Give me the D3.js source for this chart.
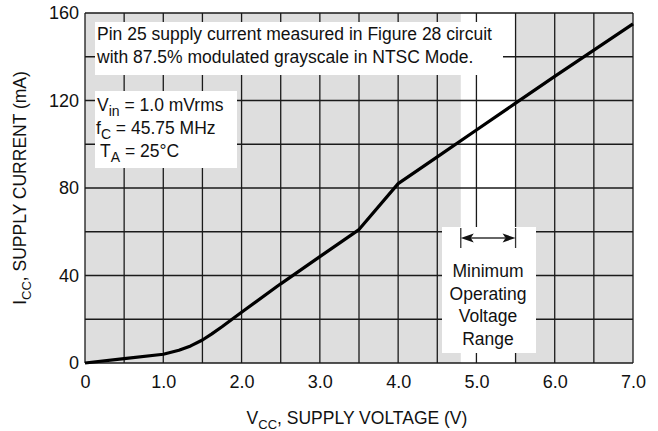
<!DOCTYPE html>
<html>
<head>
<meta charset="utf-8">
<script src="https://cdn.jsdelivr.net/npm/d3@7"></script>
<style>
body { margin: 0; background: #fff; }
text { font-family: "Liberation Sans", Arial, sans-serif; fill: #111; }
</style>
</head>
<body>
<script>
// donnees
var voltage = [0, 0.5, 1.0, 1.2, 1.35, 1.5, 1.62, 1.75, 1.87, 2.0, 2.5, 3.0, 3.5, 4.0, 4.5, 5.0, 5.5, 6.0, 6.5, 7.0];
var current = [0, 2, 4, 5.8, 7.8, 10.5, 13.3, 16.6, 19.8, 23.2, 36.2, 48.6, 61, 82, 94.2, 106.5, 118.8, 131, 143, 155];
var xTicks = [0, 1, 2, 3, 4, 5, 6, 7];
var yTicks = [0, 40, 80, 120, 160];
var xGrid = [0, 0.5, 1, 1.5, 2, 2.5, 3, 3.5, 4, 4.5, 5, 5.5, 6, 6.5, 7];
var yGrid = [0, 20, 40, 60, 80, 100, 120, 140, 160];
var rangeV = [4.8, 5.5];

var W = 658, H = 431;
var margin = { left: 85, right: 25, top: 13, bottom: 68 };
var w = W - margin.left - margin.right,
    h = H - margin.top - margin.bottom;

var svg = d3.select("body").append("svg")
    .attr("width", W)
    .attr("height", H);

var g = svg.append("g").attr("transform", "translate(" + margin.left + "," + margin.top + ")");

var x = d3.scaleLinear().domain([0, 7]).range([0, w]);
var y = d3.scaleLinear().domain([0, 160]).range([h, 0]);

// fond gris
g.append("rect").attr("width", w).attr("height", h).attr("fill", "#dedede");

// bande blanche (plage de tension)
g.append("rect")
    .attr("x", x(rangeV[0])).attr("y", 0)
    .attr("width", x(rangeV[1]) - x(rangeV[0])).attr("height", h)
    .attr("fill", "#fff");

// grille
g.selectAll(".vgrid").data(xGrid).enter().append("line")
    .attr("x1", d => x(d)).attr("x2", d => x(d))
    .attr("y1", 0).attr("y2", h)
    .attr("stroke", "#1a1a1a").attr("stroke-width", 1.3);

g.selectAll(".hgrid").data(yGrid).enter().append("line")
    .attr("x1", 0).attr("x2", w)
    .attr("y1", d => y(d)).attr("y2", d => y(d))
    .attr("stroke", "#1a1a1a").attr("stroke-width", 1.3);

// cadres blancs des annotations
svg.append("rect").attr("x", 95).attr("y", 22).attr("width", 408).attr("height", 53).attr("fill", "#fff");
svg.append("rect").attr("x", 95).attr("y", 91).attr("width", 142).attr("height", 77).attr("fill", "#fff");
svg.append("rect").attr("x", 442).attr("y", 227).attr("width", 94).attr("height", 126).attr("fill", "#fff");

// courbe
var line = d3.line()
    .x((d, i) => x(voltage[i]))
    .y((d, i) => y(current[i]));

g.append("path")
    .datum(current)
    .attr("d", line)
    .attr("fill", "none")
    .attr("stroke", "#000")
    .attr("stroke-width", 3.2)
    .attr("stroke-linejoin", "round");

// axes
var xAxis = g.append("g")
    .attr("transform", "translate(0," + h + ")")
    .call(d3.axisBottom(x).tickValues(xTicks).tickSize(0).tickPadding(12)
        .tickFormat(d => d === 0 ? "0" : d.toFixed(1)));
xAxis.select(".domain").remove();
xAxis.selectAll("text").style("font-size", "18px").attr("fill", "#111");

var yAxis = g.append("g")
    .call(d3.axisLeft(y).tickValues(yTicks).tickSize(0).tickPadding(6));
yAxis.select(".domain").remove();
yAxis.selectAll("text").style("font-size", "18px").attr("fill", "#111");

// titres des axes
var xt = svg.append("text")
    .attr("x", margin.left + w / 2 - 2).attr("y", 424)
    .attr("text-anchor", "middle")
    .style("font-size", "17.5px");
xt.append("tspan").text("V");
xt.append("tspan").attr("dy", 5).style("font-size", "13px").text("CC");
xt.append("tspan").attr("dy", -5).text(", SUPPLY VOLTAGE (V)");

var yt = svg.append("text")
    .attr("transform", "translate(26," + (margin.top + h / 2) + ") rotate(-90)")
    .attr("text-anchor", "middle")
    .style("font-size", "17.5px");
yt.append("tspan").text("I");
yt.append("tspan").attr("dy", 5).style("font-size", "13px").text("CC");
yt.append("tspan").attr("dy", -5).text(", SUPPLY CURRENT (mA)");

// note du haut
svg.append("text").attr("x", 97).attr("y", 40).style("font-size", "17.5px")
    .text("Pin 25 supply current measured in Figure 28 circuit");
svg.append("text").attr("x", 97).attr("y", 63).style("font-size", "17.5px")
    .text("with 87.5% modulated grayscale in NTSC Mode.");

// conditions de test
function subText(xp, yp, main, sub, rest) {
    var t = svg.append("text").attr("x", xp).attr("y", yp).style("font-size", "17.5px");
    t.append("tspan").text(main);
    t.append("tspan").attr("dy", 5).style("font-size", "14px").text(sub);
    t.append("tspan").attr("dy", -5).text(rest);
}
subText(97, 111, "V", "in", " = 1.0 mVrms");
subText(96, 133.5, "f", "C", " = 45.75 MHz");
subText(100, 156.5, "T", "A", " = 25\u00b0C");

// fleche de la plage minimale
var ay = 238;
svg.append("line")
    .attr("x1", margin.left + x(rangeV[0]) + 10).attr("x2", margin.left + x(rangeV[1]) - 10)
    .attr("y1", ay).attr("y2", ay)
    .attr("stroke", "#333").attr("stroke-width", 1.5);
[rangeV[0], rangeV[1]].forEach(function (v, i) {
    var px = margin.left + x(v);
    svg.append("line")
        .attr("x1", px).attr("x2", px).attr("y1", ay - 10).attr("y2", ay + 10)
        .attr("stroke", "#333").attr("stroke-width", 1.3);
    var s = i === 0 ? 1 : -1;
    svg.append("path")
        .attr("d", "M" + px + "," + ay + " L" + (px + s * 13) + "," + (ay - 4.5) + " L" + (px + s * 10) + "," + ay + " L" + (px + s * 13) + "," + (ay + 4.5) + "Z")
        .attr("fill", "#111");
});

var label = ["Minimum", "Operating", "Voltage", "Range"];
svg.selectAll(".rng").data(label).enter().append("text")
    .attr("x", 488)
    .attr("y", (d, i) => 277 + i * 22.7)
    .attr("text-anchor", "middle")
    .style("font-size", "17.5px")
    .text(d => d);
</script>
</body>
</html>
